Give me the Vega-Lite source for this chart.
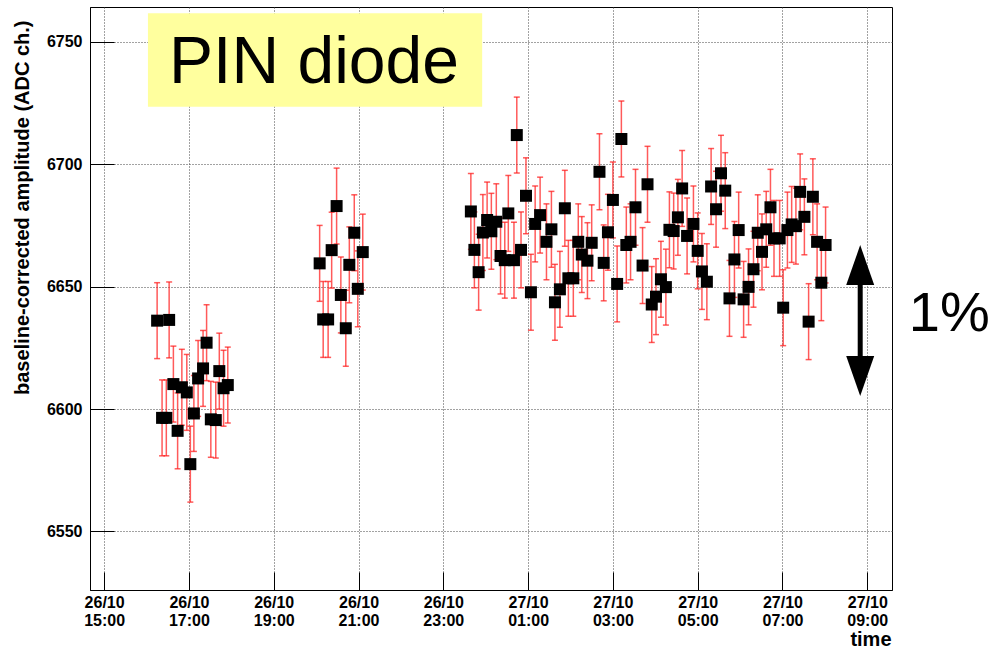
{
  "$schema": "https://vega.github.io/schema/vega-lite/v6.json",
  "width": 802,
  "height": 583,
  "autosize": {"type": "none"},
  "padding": {"left": 90, "top": 7, "right": 97, "bottom": 58},
  "background": "white",
  "config": {
    "view": {"stroke": "#000", "strokeWidth": 1},
    "axis": {
      "labelFont": "Liberation Sans", "labelFontWeight": "bold", "labelFontSize": 16, "labelColor": "#000",
      "titleFont": "Liberation Sans", "titleFontWeight": "bold", "titleFontSize": 20, "titleColor": "#000",
      "domainColor": "#000", "tickColor": "#000", "gridColor": "#444", "gridDash": [1, 2], "gridWidth": 1
    }
  },
  "data": {"values": [
      {"t": "2009-10-26T16:15:00", "v": 6636.1, "e": 15.5},
      {"t": "2009-10-26T16:22:00", "v": 6596.4, "e": 15.5},
      {"t": "2009-10-26T16:28:00", "v": 6596.4, "e": 15.5},
      {"t": "2009-10-26T16:32:00", "v": 6636.4, "e": 15.5},
      {"t": "2009-10-26T16:38:00", "v": 6610.2, "e": 15.5},
      {"t": "2009-10-26T16:44:00", "v": 6591.1, "e": 15.5},
      {"t": "2009-10-26T16:50:00", "v": 6608.9, "e": 15.5},
      {"t": "2009-10-26T16:57:00", "v": 6606.8, "e": 15.5},
      {"t": "2009-10-26T17:02:00", "v": 6577.5, "e": 15.5},
      {"t": "2009-10-26T17:07:00", "v": 6598.2, "e": 15.5},
      {"t": "2009-10-26T17:13:00", "v": 6612.5, "e": 15.5},
      {"t": "2009-10-26T17:20:00", "v": 6616.6, "e": 15.5},
      {"t": "2009-10-26T17:25:00", "v": 6627.1, "e": 15.5},
      {"t": "2009-10-26T17:31:00", "v": 6595.8, "e": 15.5},
      {"t": "2009-10-26T17:38:00", "v": 6595.5, "e": 15.5},
      {"t": "2009-10-26T17:43:00", "v": 6615.5, "e": 15.5},
      {"t": "2009-10-26T17:49:00", "v": 6608.5, "e": 15.5},
      {"t": "2009-10-26T17:55:00", "v": 6609.8, "e": 15.5},
      {"t": "2009-10-26T20:05:00", "v": 6659.5, "e": 15.5},
      {"t": "2009-10-26T20:10:00", "v": 6636.6, "e": 15.5},
      {"t": "2009-10-26T20:17:00", "v": 6636.6, "e": 15.5},
      {"t": "2009-10-26T20:22:00", "v": 6664.9, "e": 15.5},
      {"t": "2009-10-26T20:29:00", "v": 6682.9, "e": 15.5},
      {"t": "2009-10-26T20:35:00", "v": 6646.6, "e": 15.5},
      {"t": "2009-10-26T20:42:00", "v": 6633.0, "e": 15.5},
      {"t": "2009-10-26T20:47:00", "v": 6658.9, "e": 15.5},
      {"t": "2009-10-26T20:54:00", "v": 6672.0, "e": 15.5},
      {"t": "2009-10-26T20:59:00", "v": 6649.1, "e": 15.5},
      {"t": "2009-10-26T21:06:00", "v": 6664.1, "e": 15.5},
      {"t": "2009-10-26T23:39:00", "v": 6680.7, "e": 15.5},
      {"t": "2009-10-26T23:44:00", "v": 6665.0, "e": 15.5},
      {"t": "2009-10-26T23:50:00", "v": 6655.9, "e": 15.5},
      {"t": "2009-10-26T23:56:00", "v": 6672.1, "e": 15.5},
      {"t": "2009-10-27T00:02:00", "v": 6677.2, "e": 15.5},
      {"t": "2009-10-27T00:08:00", "v": 6672.6, "e": 15.5},
      {"t": "2009-10-27T00:15:00", "v": 6676.5, "e": 15.5},
      {"t": "2009-10-27T00:21:00", "v": 6662.5, "e": 15.5},
      {"t": "2009-10-27T00:27:00", "v": 6660.8, "e": 15.5},
      {"t": "2009-10-27T00:32:00", "v": 6679.9, "e": 15.5},
      {"t": "2009-10-27T00:40:00", "v": 6660.8, "e": 15.5},
      {"t": "2009-10-27T00:44:00", "v": 6711.9, "e": 15.5},
      {"t": "2009-10-27T00:50:00", "v": 6665.0, "e": 15.5},
      {"t": "2009-10-27T00:57:00", "v": 6687.1, "e": 15.5},
      {"t": "2009-10-27T01:04:00", "v": 6647.7, "e": 15.5},
      {"t": "2009-10-27T01:10:00", "v": 6675.6, "e": 15.5},
      {"t": "2009-10-27T01:17:00", "v": 6679.2, "e": 15.5},
      {"t": "2009-10-27T01:26:00", "v": 6668.3, "e": 15.5},
      {"t": "2009-10-27T01:33:00", "v": 6673.4, "e": 15.5},
      {"t": "2009-10-27T01:38:00", "v": 6643.6, "e": 15.5},
      {"t": "2009-10-27T01:45:00", "v": 6648.9, "e": 15.5},
      {"t": "2009-10-27T01:52:00", "v": 6682.0, "e": 15.5},
      {"t": "2009-10-27T01:57:00", "v": 6653.4, "e": 15.5},
      {"t": "2009-10-27T02:04:00", "v": 6653.4, "e": 15.5},
      {"t": "2009-10-27T02:11:00", "v": 6668.3, "e": 15.5},
      {"t": "2009-10-27T02:16:00", "v": 6663.1, "e": 15.5},
      {"t": "2009-10-27T02:24:00", "v": 6660.6, "e": 15.5},
      {"t": "2009-10-27T02:30:00", "v": 6667.9, "e": 15.5},
      {"t": "2009-10-27T02:41:00", "v": 6696.9, "e": 15.5},
      {"t": "2009-10-27T02:47:00", "v": 6659.7, "e": 15.5},
      {"t": "2009-10-27T02:53:00", "v": 6672.2, "e": 15.5},
      {"t": "2009-10-27T03:00:00", "v": 6685.4, "e": 15.5},
      {"t": "2009-10-27T03:06:00", "v": 6651.1, "e": 15.5},
      {"t": "2009-10-27T03:12:00", "v": 6710.3, "e": 15.5},
      {"t": "2009-10-27T03:19:00", "v": 6667.0, "e": 15.5},
      {"t": "2009-10-27T03:25:00", "v": 6668.3, "e": 15.5},
      {"t": "2009-10-27T03:32:00", "v": 6682.4, "e": 15.5},
      {"t": "2009-10-27T03:42:00", "v": 6658.6, "e": 15.5},
      {"t": "2009-10-27T03:49:00", "v": 6691.8, "e": 15.5},
      {"t": "2009-10-27T03:55:00", "v": 6642.7, "e": 15.5},
      {"t": "2009-10-27T04:01:00", "v": 6645.9, "e": 15.5},
      {"t": "2009-10-27T04:08:00", "v": 6653.0, "e": 15.5},
      {"t": "2009-10-27T04:15:00", "v": 6649.8, "e": 15.5},
      {"t": "2009-10-27T04:20:00", "v": 6673.2, "e": 15.5},
      {"t": "2009-10-27T04:26:00", "v": 6672.7, "e": 15.5},
      {"t": "2009-10-27T04:32:00", "v": 6678.3, "e": 15.5},
      {"t": "2009-10-27T04:38:00", "v": 6690.1, "e": 15.5},
      {"t": "2009-10-27T04:45:00", "v": 6670.7, "e": 15.5},
      {"t": "2009-10-27T04:54:00", "v": 6675.6, "e": 15.5},
      {"t": "2009-10-27T05:00:00", "v": 6664.6, "e": 15.5},
      {"t": "2009-10-27T05:06:00", "v": 6656.2, "e": 15.5},
      {"t": "2009-10-27T05:13:00", "v": 6652.0, "e": 15.5},
      {"t": "2009-10-27T05:19:00", "v": 6690.9, "e": 15.5},
      {"t": "2009-10-27T05:26:00", "v": 6681.6, "e": 15.5},
      {"t": "2009-10-27T05:33:00", "v": 6696.3, "e": 15.5},
      {"t": "2009-10-27T05:39:00", "v": 6689.2, "e": 15.5},
      {"t": "2009-10-27T05:45:00", "v": 6645.2, "e": 15.5},
      {"t": "2009-10-27T05:52:00", "v": 6661.1, "e": 15.5},
      {"t": "2009-10-27T05:58:00", "v": 6673.1, "e": 15.5},
      {"t": "2009-10-27T06:05:00", "v": 6644.8, "e": 15.5},
      {"t": "2009-10-27T06:12:00", "v": 6649.9, "e": 15.5},
      {"t": "2009-10-27T06:19:00", "v": 6657.1, "e": 15.5},
      {"t": "2009-10-27T06:25:00", "v": 6672.0, "e": 15.5},
      {"t": "2009-10-27T06:31:00", "v": 6664.2, "e": 15.5},
      {"t": "2009-10-27T06:37:00", "v": 6673.4, "e": 15.5},
      {"t": "2009-10-27T06:43:00", "v": 6682.4, "e": 15.5},
      {"t": "2009-10-27T06:48:00", "v": 6669.7, "e": 15.5},
      {"t": "2009-10-27T06:56:00", "v": 6669.7, "e": 15.5},
      {"t": "2009-10-27T07:01:00", "v": 6641.4, "e": 15.5},
      {"t": "2009-10-27T07:07:00", "v": 6673.1, "e": 15.5},
      {"t": "2009-10-27T07:13:00", "v": 6675.4, "e": 15.5},
      {"t": "2009-10-27T07:19:00", "v": 6674.7, "e": 15.5},
      {"t": "2009-10-27T07:25:00", "v": 6688.7, "e": 15.5},
      {"t": "2009-10-27T07:31:00", "v": 6678.5, "e": 15.5},
      {"t": "2009-10-27T07:37:00", "v": 6635.7, "e": 15.5},
      {"t": "2009-10-27T07:43:00", "v": 6686.7, "e": 15.5},
      {"t": "2009-10-27T07:49:00", "v": 6668.3, "e": 15.5},
      {"t": "2009-10-27T07:55:00", "v": 6651.6, "e": 15.5},
      {"t": "2009-10-27T08:01:00", "v": 6667.0, "e": 15.5}
  ]},
  "layer": [
    {
      "data": {"values": [{"t1": "2009-10-26T16:02:00", "t2": "2009-10-26T23:55:00", "v1": 6723.5, "v2": 6761.6}]},
      "mark": {"type": "rect", "color": "#ffff9e"},
      "encoding": {
        "x": {"field": "t1", "type": "temporal", "title": "time"},
        "x2": {"field": "t2"},
        "y": {"field": "v1", "type": "quantitative", "title": "baseline-corrected amplitude (ADC ch.)"},
        "y2": {"field": "v2"}
      }
    },
    {
      "mark": {"type": "errorbar", "color": "#ff1a1a", "opacity": 0.72, "thickness": 1.5, "size": 6, "ticks": true},
      "encoding": {
        "x": {"field": "t", "type": "temporal", "title": "time"},
        "y": {"field": "v", "type": "quantitative", "title": "baseline-corrected amplitude (ADC ch.)"},
        "yError": {"field": "e"}
      }
    },
    {
      "mark": {"type": "square", "size": 144, "color": "#000", "opacity": 1},
      "encoding": {
        "x": {"field": "t", "type": "temporal", "title": "time",
              "scale": {"domain": ["2009-10-26T14:40:00", "2009-10-27T09:35:00"], "nice": false},
              "axis": {"orient": "bottom", "grid": true, "tickSize": -18, "labelPadding": 22, "labelBaseline": "top", "labelLineHeight": 18,
                       "labelFlush": false, "labelOverlap": false,
                       "values": ["2009-10-26T15:00:00", "2009-10-26T17:00:00", "2009-10-26T19:00:00", "2009-10-26T21:00:00", "2009-10-26T23:00:00", "2009-10-27T01:00:00", "2009-10-27T03:00:00", "2009-10-27T05:00:00", "2009-10-27T07:00:00", "2009-10-27T09:00:00"],
                       "labelExpr": "[timeFormat(datum.value, '%d/%m'), timeFormat(datum.value, '%H:%M')]",
                       "titleX": 801, "titleY": 55, "titleAlign": "right", "titleBaseline": "alphabetic"}},
        "y": {"field": "v", "type": "quantitative", "title": "baseline-corrected amplitude (ADC ch.)",
              "scale": {"domain": [6526.1, 6764.2], "nice": false, "zero": false},
              "axis": {"orient": "left", "grid": true, "tickSize": -24, "labelPadding": 32, "format": "d", "labelOverlap": false,
                       "values": [6550, 6600, 6650, 6700, 6750],
                       "titleAngle": -90, "titleX": -68, "titleY": 13, "titleAlign": "right", "titleBaseline": "middle"}}
      }
    },
    {
      "data": {"values": [{"t": "2009-10-26T19:57:00", "v": 6733.1, "text": "PIN diode"}]},
      "mark": {"type": "text", "font": "Liberation Sans", "fontSize": 66, "color": "#000", "align": "center", "baseline": "alphabetic"},
      "encoding": {
        "x": {"field": "t", "type": "temporal", "title": "time"},
        "y": {"field": "v", "type": "quantitative", "title": "baseline-corrected amplitude (ADC ch.)"},
        "text": {"field": "text"}
      }
    },
    {
      "data": {"values": [{"t": "2009-10-27T08:50:00", "v1": 6620.0, "v2": 6653.0}]},
      "mark": {"type": "rule", "color": "#000", "strokeWidth": 5},
      "encoding": {
        "x": {"field": "t", "type": "temporal", "title": "time"},
        "y": {"field": "v1", "type": "quantitative", "title": "baseline-corrected amplitude (ADC ch.)"},
        "y2": {"field": "v2"}
      }
    },
    {
      "data": {"values": [{"t": "2009-10-27T08:50:00", "v": 6658.8}]},
      "mark": {"type": "point", "shape": "M0,-1L0.7,1L-0.7,1Z", "filled": true, "opacity": 1, "color": "#000", "size": 1600},
      "encoding": {
        "x": {"field": "t", "type": "temporal", "title": "time"},
        "y": {"field": "v", "type": "quantitative", "title": "baseline-corrected amplitude (ADC ch.)"}
      }
    },
    {
      "data": {"values": [{"t": "2009-10-27T08:50:00", "v": 6613.5}]},
      "mark": {"type": "point", "shape": "M0,1L0.7,-1L-0.7,-1Z", "filled": true, "opacity": 1, "color": "#000", "size": 1600},
      "encoding": {
        "x": {"field": "t", "type": "temporal", "title": "time"},
        "y": {"field": "v", "type": "quantitative", "title": "baseline-corrected amplitude (ADC ch.)"}
      }
    },
    {
      "data": {"values": [{"t": "2009-10-27T10:56:00", "v": 6631.9, "text": "1%"}]},
      "mark": {"type": "text", "font": "Liberation Sans", "fontSize": 56, "color": "#000", "align": "center", "baseline": "alphabetic"},
      "encoding": {
        "x": {"field": "t", "type": "temporal", "title": "time"},
        "y": {"field": "v", "type": "quantitative", "title": "baseline-corrected amplitude (ADC ch.)"},
        "text": {"field": "text"}
      }
    }
  ]
}
